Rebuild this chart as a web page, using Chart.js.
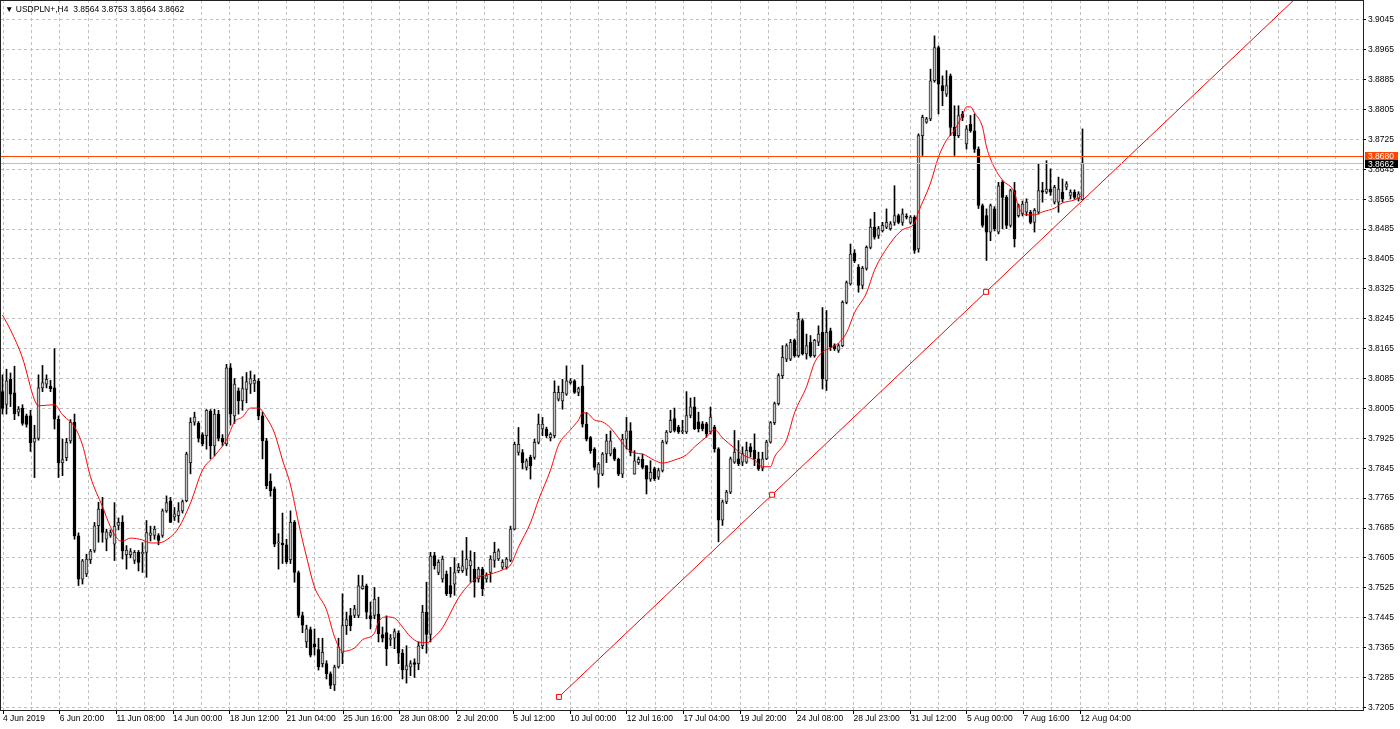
<!DOCTYPE html>
<html lang="en">
<head>
<meta charset="UTF-8">
<title>USDPLN+,H4</title>
<script src="https://cdn.jsdelivr.net/npm/chart.js@4"></script>
<style>
  body { margin: 0; background: #fff; }
  #wrap { width: 1400px; height: 729px; }
</style>
</head>
<body>
<div id="wrap"><canvas id="chart" width="1400" height="729"></canvas></div>
<script>
// H4 bars (bar 0 = 4 Jun 2019)
const barOpen = [
  3.8050,3.8016,3.8083,3.8047,3.7995,3.8005,3.7985,3.7985,3.7915,3.7925,
  3.8060,3.8070,3.8065,3.8060,3.7976,3.7860,3.7873,3.7918,3.7968,3.7664,
  3.7548,3.7562,3.7600,3.7625,3.7691,3.7735,3.7655,3.7665,3.7642,3.7692,
  3.7700,3.7614,3.7614,3.7598,3.7620,3.7616,3.7620,3.7665,3.7665,3.7665,
  3.7665,3.7731,3.7758,3.7715,3.7718,3.7731,3.7758,3.7860,3.7968,3.7965,
  3.7935,3.7932,3.7998,3.7905,3.7990,3.7925,
  3.7910,3.8114,3.7985,3.8052,3.8025,3.8056,3.8070,3.8072,3.8078,3.7985,
  3.7918,3.7810,3.7790,3.7645,3.7645,3.7640,3.7600,3.7700,3.7566,3.7451,
  3.7380,3.7413,3.7375,3.7360,3.7322,3.7322,3.7295,3.7265,3.7313,3.7350,
  3.7424,3.7451,3.7451,3.7451,3.7523,3.7530,3.7451,3.7451,3.7455,3.7400,
  3.7405,3.7387,3.7390,3.7403,3.7350,3.7305,3.7313,3.7325,3.7322,3.7370,
  3.7460,3.7400,
  3.7611,3.7566,3.7549,3.7562,3.7531,3.7535,3.7571,3.7571,3.7575,3.7584,
  3.7575,3.7549,3.7575,3.7549,3.7566,3.7598,3.7602,3.7580,3.7580,3.7598,
  3.7682,3.7887,3.7887,3.7847,3.7874,3.7874,3.7914,3.7950,3.7950,3.7927,
  3.7932,3.8030,3.8025,3.8043,3.8074,3.8079,3.8048,3.8065,3.7963,3.7927,
  3.7896,3.7829,3.7829,3.7883,3.7883,3.7896,3.7869,3.7829,3.7923,3.7945,
  3.7829,3.7860,3.7869,3.7852,3.7816,3.7844,3.7821,3.7839,
  3.7915,3.7942,3.7978,3.7955,3.7942,3.7942,3.7986,3.8009,3.7969,3.7964,
  3.7964,3.7942,3.7955,3.7897,3.7706,3.7755,3.7781,3.7861,3.7870,3.7861,
  3.7861,3.7902,3.7893,3.7870,3.7845,3.7870,3.7915,3.7967,3.8018,3.8093,
  3.8137,3.8137,3.8187,3.8146,3.8240,3.8151,3.8182,3.8146,3.8182,3.8209,
  3.8080,3.8213,3.8173,3.8160,3.8173,3.8289,3.8338,3.8420,3.8383,3.8334,
  3.8380,3.8436,3.8490,
  3.8468,3.8481,3.8490,3.8486,3.8503,3.8521,3.8503,3.8520,3.8503,3.8517,
  3.8432,3.8735,3.8771,3.8780,3.8882,3.8971,3.8869,3.8846,3.8895,3.8757,
  3.8735,3.8793,3.8713,3.8766,3.8748,3.8699,3.8548,3.8521,3.8477,3.8539,
  3.8477,3.8610,3.8570,3.8495,3.8588,3.8521,3.8526,3.8530,3.8530,3.8503,
  3.8530,3.8588,3.8584,3.8592,3.8557,3.8557,3.8584,3.8597,3.8575,3.8584,
  3.8566,3.8564
];
const barHigh = [
  3.8095,3.8110,3.8100,3.8118,3.8010,3.8015,3.7990,3.8000,3.7960,3.8095,
  3.8120,3.8095,3.8080,3.8165,3.7985,3.7923,3.7925,3.7975,3.7990,3.7672,
  3.7601,3.7615,3.7628,3.7700,3.7754,3.7767,3.7682,3.7680,3.7753,3.7712,
  3.7718,3.7638,3.7630,3.7625,3.7625,3.7646,3.7705,3.7690,3.7690,3.7670,
  3.7736,3.7771,3.7767,3.7740,3.7753,3.7760,3.7888,3.7980,3.7995,3.7970,
  3.7940,3.8002,3.8002,3.8003,3.8000,3.7935,
  3.8123,3.8125,3.8085,3.8060,3.8090,3.8101,3.8105,3.8095,3.8085,3.7995,
  3.7925,3.7830,3.7795,3.7670,3.7725,3.7655,3.7731,3.7705,3.7570,3.7460,
  3.7425,3.7420,3.7415,3.7390,3.7390,3.7330,3.7300,3.7318,3.7390,3.7509,
  3.7460,3.7470,3.7478,3.7559,3.7558,3.7535,3.7487,3.7526,3.7500,3.7420,
  3.7450,3.7400,3.7415,3.7410,3.7360,3.7370,3.7330,3.7335,3.7380,3.7478,
  3.7540,3.7620,
  3.7620,3.7600,3.7610,3.7570,3.7580,3.7606,3.7590,3.7624,3.7660,3.7624,
  3.7620,3.7580,3.7580,3.7565,3.7611,3.7647,3.7629,3.7600,3.7606,3.7690,
  3.7915,3.7954,3.7895,3.7870,3.7880,3.7923,3.7990,3.7981,3.7955,3.7940,
  3.8079,3.8065,3.8083,3.8119,3.8085,3.8082,3.8062,3.8121,3.7994,3.7930,
  3.7900,3.7860,3.7887,3.7936,3.7945,3.7900,3.7872,3.7936,3.7981,3.7967,
  3.7892,3.7875,3.7883,3.7852,3.7865,3.7848,3.7845,3.7920,
  3.7946,3.8000,3.8006,3.7960,3.7973,3.8050,3.8033,3.8035,3.7995,3.7970,
  3.7968,3.8009,3.7960,3.7900,3.7760,3.7786,3.7875,3.7946,3.7919,3.7902,
  3.7915,3.7911,3.7937,3.7888,3.7888,3.7920,3.7970,3.8022,3.8098,3.8173,
  3.8178,3.8190,3.8191,3.8262,3.8245,3.8204,3.8200,3.8190,3.8226,3.8275,
  3.8267,3.8220,3.8178,3.8178,3.8293,3.8346,3.8445,3.8430,3.8390,3.8385,
  3.8440,3.8512,3.8530,
  3.8492,3.8503,3.8539,3.8505,3.8601,3.8525,3.8539,3.8526,3.8521,3.8521,
  3.8740,3.8790,3.8784,3.8913,3.9002,3.8975,3.8895,3.8909,3.8900,3.8815,
  3.8815,3.8800,3.8762,3.8789,3.8793,3.8705,3.8552,3.8539,3.8552,3.8545,
  3.8610,3.8615,3.8575,3.8592,3.8610,3.8552,3.8560,3.8566,3.8535,3.8540,
  3.8659,3.8610,3.8668,3.8646,3.8602,3.8624,3.8619,3.8612,3.8590,3.8590,
  3.8585,3.8753
];
const barLow = [
  3.7990,3.7990,3.8010,3.7975,3.7985,3.7960,3.7955,3.7890,3.7820,3.7920,
  3.8050,3.8060,3.8050,3.7950,3.7820,3.7825,3.7865,3.7912,3.7655,3.7531,
  3.7535,3.7555,3.7590,3.7620,3.7647,3.7647,3.7624,3.7660,3.7598,3.7680,
  3.7602,3.7575,3.7605,3.7590,3.7570,3.7566,3.7553,3.7650,3.7655,3.7640,
  3.7660,3.7727,3.7700,3.7705,3.7700,3.7725,3.7755,3.7830,3.7960,3.7915,
  3.7905,3.7896,3.7870,3.7878,3.7918,3.7905,
  3.7905,3.7960,3.7965,3.7990,3.8000,3.8020,3.8045,3.8050,3.7975,3.7870,
  3.7790,3.7770,3.7635,3.7575,3.7590,3.7590,3.7590,3.7540,3.7445,3.7405,
  3.7365,3.7340,3.7345,3.7305,3.7313,3.7281,3.7255,3.7250,3.7310,3.7322,
  3.7400,3.7410,3.7445,3.7445,3.7521,3.7442,3.7415,3.7442,3.7380,3.7380,
  3.7317,3.7370,3.7362,3.7322,3.7281,3.7270,3.7290,3.7285,3.7306,3.7362,
  3.7350,3.7380,
  3.7575,3.7560,3.7540,3.7504,3.7500,3.7505,3.7565,3.7566,3.7558,3.7540,
  3.7500,3.7540,3.7504,3.7540,3.7540,3.7580,3.7598,3.7575,3.7575,3.7595,
  3.7680,3.7880,3.7843,3.7840,3.7816,3.7869,3.7910,3.7932,3.7927,3.7918,
  3.7927,3.8025,3.8003,3.8040,3.8070,3.8045,3.8039,3.7955,3.7918,3.7885,
  3.7840,3.7794,3.7825,3.7860,3.7878,3.7865,3.7825,3.7820,3.7896,3.7878,
  3.7829,3.7855,3.7843,3.7776,3.7810,3.7812,3.7815,3.7835,
  3.7910,3.7940,3.7942,3.7938,3.7938,3.7938,3.7980,3.7948,3.7942,3.7945,
  3.7928,3.7937,3.7888,3.7648,3.7692,3.7750,3.7777,3.7858,3.7852,3.7852,
  3.7858,3.7875,3.7852,3.7839,3.7838,3.7868,3.7912,3.7962,3.8014,3.8085,
  3.8130,3.8133,3.8142,3.8142,3.8148,3.8137,3.8142,3.8142,3.8173,3.8057,
  3.8053,3.8160,3.8160,3.8155,3.8170,3.8285,3.8335,3.8395,3.8316,3.8325,
  3.8375,3.8432,3.8458,
  3.8460,3.8477,3.8486,3.8482,3.8495,3.8499,3.8495,3.8512,3.8499,3.8420,
  3.8423,3.8682,3.8768,3.8775,3.8878,3.8793,3.8815,3.8840,3.8735,3.8682,
  3.8730,3.8775,3.8699,3.8744,3.8690,3.8540,3.8490,3.8401,3.8454,3.8480,
  3.8472,3.8486,3.8486,3.8490,3.8437,3.8517,3.8520,3.8521,3.8499,3.8477,
  3.8525,3.8557,3.8580,3.8575,3.8552,3.8530,3.8557,3.8590,3.8566,3.8565,
  3.8560,3.8564
];
const barClose = [
  3.8005,3.8079,3.8043,3.7990,3.8003,3.7965,3.7962,3.7913,3.7925,3.8060,
  3.8074,3.8083,3.8058,3.7976,3.7860,3.7868,3.7914,3.7968,3.7664,3.7548,
  3.7597,3.7602,3.7623,3.7691,3.7736,3.7673,3.7675,3.7673,3.7690,3.7700,
  3.7624,3.7626,3.7622,3.7620,3.7593,3.7620,3.7673,3.7672,3.7682,3.7652,
  3.7731,3.7753,3.7700,3.7723,3.7731,3.7756,3.7883,3.7968,3.7982,3.7925,
  3.7910,3.8000,3.7905,3.7990,3.7925,3.7915,
  3.8114,3.7990,3.8070,3.8025,3.8058,3.8077,3.8085,3.8080,3.7985,3.7918,
  3.7798,3.7785,3.7642,3.7648,3.7640,3.7595,3.7700,3.7566,3.7451,3.7425,
  3.7415,3.7345,3.7367,3.7313,3.7352,3.7295,3.7264,3.7313,3.7367,3.7424,
  3.7440,3.7424,3.7469,3.7530,3.7530,3.7460,3.7442,3.7495,3.7402,3.7390,
  3.7362,3.7390,3.7408,3.7350,3.7305,3.7317,3.7322,3.7320,3.7370,3.7460,
  3.7400,3.7610,
  3.7584,3.7593,3.7602,3.7509,3.7509,3.7566,3.7580,3.7584,3.7602,3.7598,
  3.7540,3.7575,3.7522,3.7558,3.7602,3.7620,3.7624,3.7593,3.7602,3.7682,
  3.7909,3.7909,3.7860,3.7865,3.7852,3.7914,3.7963,3.7963,3.7932,3.7936,
  3.8048,3.8048,3.8048,3.8079,3.8079,3.8048,3.8058,3.7963,3.7923,3.7892,
  3.7847,3.7856,3.7883,3.7918,3.7918,3.7869,3.7829,3.7923,3.7945,3.7887,
  3.7865,3.7869,3.7847,3.7816,3.7834,3.7817,3.7839,3.7915,
  3.7942,3.7973,3.7946,3.7942,3.7946,3.7986,3.8009,3.7951,3.7951,3.7951,
  3.7937,3.7982,3.7897,3.7706,3.7755,3.7781,3.7870,3.7888,3.7857,3.7884,
  3.7893,3.7888,3.7870,3.7843,3.7870,3.7915,3.7967,3.8018,3.8093,3.8142,
  3.8173,3.8182,3.8146,3.8244,3.8151,3.8173,3.8146,3.8187,3.8204,3.8084,
  3.8209,3.8169,3.8164,3.8173,3.8289,3.8342,3.8418,3.8400,3.8334,3.8380,
  3.8436,3.8490,3.8463,
  3.8486,3.8495,3.8503,3.8499,3.8521,3.8503,3.8526,3.8517,3.8517,3.8428,
  3.8735,3.8784,3.8780,3.8882,3.8971,3.8873,3.8855,3.8869,3.8757,3.8735,
  3.8789,3.8784,3.8753,3.8748,3.8699,3.8548,3.8495,3.8477,3.8548,3.8486,
  3.8601,3.8570,3.8495,3.8588,3.8459,3.8548,3.8552,3.8557,3.8503,3.8535,
  3.8588,3.8584,3.8592,3.8584,3.8597,3.8592,3.8566,3.8606,3.8584,3.8570,
  3.8579,3.8662
];

// red moving average, read at these bars
const maBar = [
  0, 2, 5, 8, 9, 13, 15, 17, 18, 20, 22, 25, 27, 29, 30, 32, 35, 37, 39, 42,
  44, 47, 50, 53, 56, 58, 60, 62, 64, 66, 68, 70, 72, 74, 76, 78, 81, 83, 85, 88,
  90, 93, 94, 96, 98, 100, 102, 104, 106, 108, 110, 114, 117, 119, 122, 125, 127, 129, 132, 134,
  137, 139, 142, 144, 145, 146, 148, 150, 152, 154, 156, 158, 160, 163, 165, 168, 171, 173, 176, 178,
  180, 183, 185, 188, 190, 192, 193, 196, 198, 201, 203, 205, 207, 209, 211, 213, 216, 218, 222, 225,
  228, 229, 232, 234, 236, 238, 240, 241, 242, 243, 245, 246, 248, 250, 253, 254, 256, 258, 260, 263,
  265, 268, 270
];
const maValue = [
  3.8255, 3.8215, 3.8140, 3.8028, 3.8012, 3.8015, 3.7988, 3.7969, 3.7956, 3.7907,
  3.7822, 3.7742, 3.7688, 3.7653, 3.7650, 3.7658, 3.7653, 3.7645, 3.7645, 3.7661,
  3.7685, 3.7752, 3.7840, 3.7878, 3.7921, 3.7969, 3.7982, 3.8006, 3.8006, 3.7980,
  3.7939, 3.7867, 3.7800, 3.7699, 3.7608, 3.7527, 3.7466, 3.7394, 3.7355, 3.7364,
  3.7386, 3.7404, 3.7434, 3.7447, 3.7444, 3.7420, 3.7394, 3.7380, 3.7378, 3.7394,
  3.7418, 3.7498, 3.7538, 3.7554, 3.7562, 3.7573, 3.7586, 3.7634, 3.7699, 3.7760,
  3.7840, 3.7907, 3.7948, 3.7974, 3.7993, 3.7993, 3.7974, 3.7969, 3.7953, 3.7926,
  3.7899, 3.7886, 3.7883, 3.7866, 3.7859, 3.7867, 3.7881, 3.7902, 3.7929, 3.7948,
  3.7926, 3.7899, 3.7881, 3.7867, 3.7849, 3.7849, 3.7875, 3.7921, 3.7993, 3.8063,
  3.8127, 3.8156, 3.8167, 3.8180, 3.8207, 3.8261, 3.8314, 3.8375, 3.8448, 3.8483,
  3.8501, 3.8531, 3.8608, 3.8678, 3.8723, 3.8750, 3.8790, 3.8812, 3.8812, 3.8796,
  3.8758, 3.8705, 3.8649, 3.8616, 3.8582, 3.8544, 3.8523, 3.8523, 3.8531, 3.8541,
  3.8555, 3.8563, 3.8576
];

// trend line anchors (start, middle, end) and horizontal levels
const trendBar = [139.1, 192.4, 245.9];
const trendValue = [3.7233, 3.7774, 3.8317];
const levelValue = [3.8680, 3.8662];
const levelColor = ['#ff4500', '#c0c0c0'];
const levelLabelBg = ['#ff4500', '#000000'];

const yTicks = [
  3.7205, 3.7285, 3.7365, 3.7445, 3.7525, 3.7605, 3.7685, 3.7765, 3.7845, 3.7925,
  3.8005, 3.8085, 3.8165, 3.8245, 3.8325, 3.8405, 3.8485, 3.8565, 3.8645, 3.8725,
  3.8805, 3.8885, 3.8965, 3.9045
];
const xLabels = [
  '4 Jun 2019', '6 Jun 20:00', '11 Jun 08:00', '14 Jun 00:00', '18 Jun 12:00',
  '21 Jun 04:00', '25 Jun 16:00', '28 Jun 08:00', '2 Jul 20:00', '5 Jul 12:00',
  '10 Jul 00:00', '12 Jul 16:00', '17 Jul 04:00', '19 Jul 20:00', '24 Jul 08:00',
  '28 Jul 23:00', '31 Jul 12:00', '5 Aug 00:00', '7 Aug 16:00', '12 Aug 04:00'
];
const titleText = '\u25BC USDPLN+,H4  3.8564 3.8753 3.8564 3.8662';

const LABEL_STEP = 14.175;   // bars between two date labels
const FONT_FAMILY = "'Liberation Sans', Arial, sans-serif";
const FONT = { family: FONT_FAMILY, size: 8.5 };
const GRID = '#c0c0c0';

const bodies = barOpen.map((o, i) => ({ x: i, y: [o, barClose[i]] }));
const wicks = barLow.map((l, i) => ({ x: i, y: [l, barHigh[i]] }));
const maPoints = maBar.map((b, k) => ({ x: b, y: maValue[k] }));
const trendPoints = trendBar.map((b, k) => ({ x: b, y: trendValue[k] }));

const isUp = i => barClose[i] >= barOpen[i];

// no extra room round the plot: the axes sit flush on the frame
function noPadding(s) {
  s.paddingLeft = 0;
  s.paddingRight = 0;
  s.paddingTop = 0;
  s.paddingBottom = 0;
}

const overlay = {
  id: 'overlay',
  beforeDatasetsDraw(chart) {
    const { ctx, chartArea: a, scales: { x, y } } = chart;
    ctx.save();
    ctx.beginPath();
    ctx.rect(a.left, a.top, a.right - a.left, a.bottom - a.top);
    ctx.clip();
    // ray continuing the trend line past its last anchor
    const x1 = x.getPixelForValue(trendBar[0]), y1 = y.getPixelForValue(trendValue[0]);
    const x2 = x.getPixelForValue(trendBar[2]), y2 = y.getPixelForValue(trendValue[2]);
    ctx.strokeStyle = '#ff0000';
    ctx.lineWidth = 1;
    ctx.beginPath();
    ctx.moveTo(x2, y2);
    ctx.lineTo(x2 + (x2 - x1) * 5, y2 + (y2 - y1) * 5);
    ctx.stroke();
    ctx.restore();
  },
  afterDatasetsDraw(chart) {
    const { ctx, chartArea: a, scales: { y } } = chart;
    ctx.save();
    levelValue.forEach((v, k) => {
      const py = Math.round(y.getPixelForValue(v)) + 0.5;
      ctx.strokeStyle = levelColor[k];
      ctx.lineWidth = 1;
      ctx.beginPath();
      ctx.moveTo(a.left, py);
      ctx.lineTo(a.right, py);
      ctx.stroke();
    });
    ctx.restore();
  },
  afterDraw(chart) {
    const { ctx, chartArea: a, scales: { y } } = chart;
    ctx.save();
    // frame round the plot
    ctx.strokeStyle = '#222';
    ctx.lineWidth = 1;
    ctx.strokeRect(0.5, 0.5, a.right, a.bottom);
    // price boxes on the right axis
    ctx.font = `${FONT.size}px ${FONT_FAMILY}`;
    ctx.textBaseline = 'middle';
    ctx.textAlign = 'left';
    let prevBottom = -Infinity;
    levelValue.forEach((v, k) => {
      let top = Math.round(y.getPixelForValue(v)) - 4;
      if (top < prevBottom) top = prevBottom;
      ctx.fillStyle = levelLabelBg[k];
      ctx.fillRect(a.right + 2, top, 33, 8);
      ctx.fillStyle = '#fff';
      ctx.fillText(v.toFixed(4), a.right + 5, top + 4.5);
      prevBottom = top + 8;
    });
    // symbol line, top left
    ctx.fillStyle = '#000';
    ctx.fillText(titleText, 5, 9.5);
    ctx.restore();
  }
};

new Chart(document.getElementById('chart'), {
  type: 'bar',
  data: {
    datasets: [
      {
        type: 'line',
        data: maPoints,
        borderColor: '#ff0000',
        borderWidth: 1,
        pointRadius: 0,
        cubicInterpolationMode: 'monotone',
        order: 0
      },
      {
        type: 'line',
        data: trendPoints,
        borderColor: '#ff0000',
        borderWidth: 1,
        pointStyle: 'rect',
        pointRadius: 3.5,
        pointBorderColor: '#ff0000',
        pointBackgroundColor: '#ffffff',
        pointBorderWidth: 1,
        order: 0
      },
      {
        data: bodies,
        grouped: false,
        barThickness: 3,
        minBarLength: 1,
        borderWidth: 1,
        borderSkipped: false,
        borderColor: ctx => isUp(ctx.dataIndex) ? '#2a2a2a' : '#000',
        backgroundColor: ctx => isUp(ctx.dataIndex) ? '#c4c4c4' : '#000',
        order: 1
      },
      {
        data: wicks,
        grouped: false,
        barThickness: 1,
        borderWidth: 0,
        backgroundColor: '#000',
        order: 2
      }
    ]
  },
  options: {
    responsive: false,
    devicePixelRatio: 1,
    animation: false,
    events: [],
    layout: { padding: 0, autoPadding: false },
    plugins: { legend: { display: false }, tooltip: { enabled: false } },
    scales: {
      x: {
        type: 'linear',
        position: 'bottom',
        offset: false,
        min: -0.625,
        max: 340.125,
        afterFit: s => { s.height = 19; noPadding(s); },
        afterBuildTicks: s => {
          const ticks = [];
          for (let k = 0; k * LABEL_STEP / 2 + 0.125 <= s.max; k++) {
            ticks.push({ value: k * LABEL_STEP / 2 + 0.125 });
          }
          s.ticks = ticks;
        },
        ticks: {
          autoSkip: false,
          maxRotation: 0,
          minRotation: 0,
          align: 'start',
          padding: 0,
          color: '#000',
          font: FONT,
          callback: (v, i) => (i % 2 === 0 && xLabels[i / 2]) || ''
        },
        grid: {
          offset: false,
          color: GRID,
          tickLength: 4,
          tickBorderDash: [],
          tickColor: ctx => (ctx.index % 2 === 0 && ctx.index / 2 < xLabels.length) ? '#000' : 'rgba(0,0,0,0)'
        },
        border: { display: false, dash: [3, 3] }
      },
      y: {
        type: 'linear',
        position: 'right',
        min: 3.7198,
        max: 3.9098,
        afterFit: s => { s.width = 37; noPadding(s); },
        afterBuildTicks: s => { s.ticks = yTicks.map(v => ({ value: v })); },
        ticks: {
          padding: 2,
          color: '#000',
          font: FONT,
          callback: v => v.toFixed(4)
        },
        grid: {
          color: GRID,
          tickLength: 3,
          tickBorderDash: [],
          tickColor: '#000'
        },
        border: { display: false, dash: [3, 3] }
      }
    }
  },
  plugins: [overlay]
});
</script>
</body>
</html>
